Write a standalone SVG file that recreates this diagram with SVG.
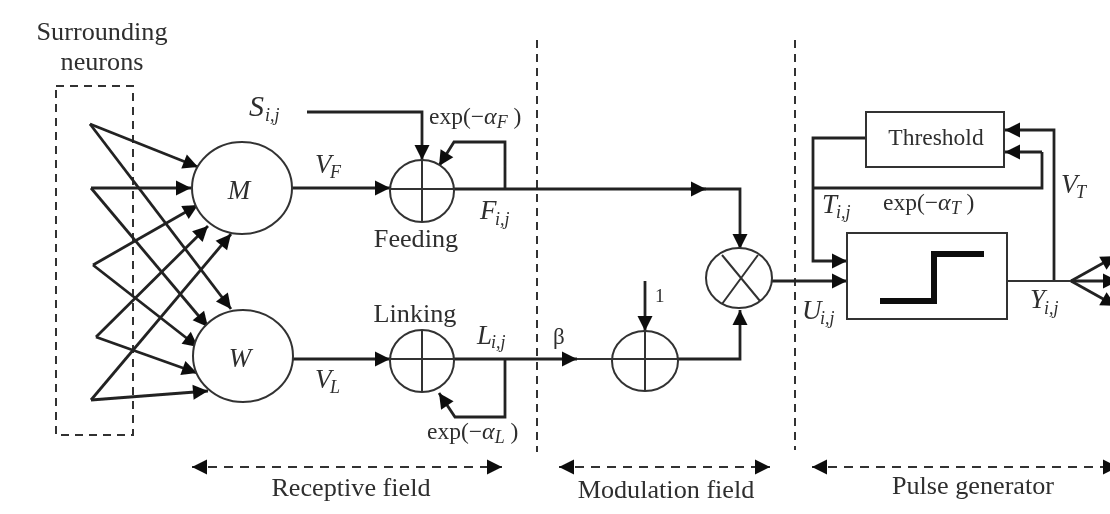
<svg xmlns="http://www.w3.org/2000/svg" width="1110" height="514" viewBox="0 0 1110 514">
<style>
text{font-family:"Liberation Serif","Times New Roman",serif;fill:#2e2e2e;font-size:26.2px}
.lb{text-anchor:middle}
.it{font-style:italic;font-size:27px}
.sub{font-style:italic;font-size:18px}
.e{font-size:23.5px}
.w{fill:none;stroke:#222;stroke-width:2.8}
.a{marker-end:url(#ah)}
.t{fill:none;stroke:#333;stroke-width:2}
.d{fill:none;stroke:#333;stroke-width:2;stroke-dasharray:8 6}
.d2{fill:none;stroke:#333;stroke-width:2;stroke-dasharray:9 7;marker-start:url(#as);marker-end:url(#ah)}
.c{fill:#fff;stroke:#333;stroke-width:2}
</style>
<defs>
<marker id="ah" markerUnits="userSpaceOnUse" markerWidth="18" markerHeight="18" refX="16" refY="9" orient="auto"><path d="M1 1.5L16 9L1 16.5Z" fill="#111"/></marker>
<marker id="as" markerUnits="userSpaceOnUse" markerWidth="18" markerHeight="18" refX="2" refY="9" orient="auto"><path d="M17 1.5L2 9L17 16.5Z" fill="#111"/></marker>
<filter id="soft" x="-5%" y="-5%" width="110%" height="110%"><feGaussianBlur stdDeviation="0.5"/></filter>
</defs>
<rect width="1110" height="514" fill="#fff"/>
<g filter="url(#soft)">
<g id="connectors">
<path class="d" d="M56 86H133V435H56Z"/>
<path class="d" d="M537 40V452"/>
<path class="d" d="M795 40V450"/>
<path class="w a" d="M90 124L198 167"/>
<path class="w a" d="M91 188H191"/>
<path class="w a" d="M93 265L198 205"/>
<path class="w a" d="M96 337L208 226"/>
<path class="w a" d="M91 400L231 234"/>
<path class="w a" d="M90 124L231 309"/>
<path class="w a" d="M91 188L208 327"/>
<path class="w a" d="M93 265L198 347"/>
<path class="w a" d="M96 337L197 373"/>
<path class="w a" d="M91 400L208 391"/>
<path class="w a" d="M292 188H390"/>
<path class="w a" d="M293 359H390"/>
<path class="w a" d="M307 112H422V160"/>
<path class="w a" d="M505 188V142H454L439 166"/>
<path class="w a" d="M505 359V417H455L439 393"/>
<path class="w a" d="M454 189H740V249"/>
<path class="w a" d="M690 189H706"/>
<path class="w a" d="M454 359H577"/>
<path class="t" d="M577 359H612"/>
<path class="w a" d="M645 281V331"/>
<path class="w a" d="M678 359H740V310"/>
<path class="w a" d="M772 281H847"/>
<path class="w a" d="M866 138H813V261H847"/>
<path class="w" d="M813 188H1042V152"/>
<path class="w a" d="M1042 152H1005"/>
<path class="w a" d="M1054 281V130H1005"/>
<path class="t" d="M1007 281H1071"/>
<path class="w a" d="M1071 281L1116 256"/>
<path class="w a" d="M1071 281H1118"/>
<path class="w a" d="M1071 281L1116 306"/>
<path class="d2" d="M192 467H502"/>
<path class="d2" d="M559 467H770"/>
<path class="d2" d="M812 467H1118"/>
</g>
<g id="node-m"><ellipse class="c" cx="242" cy="188" rx="50" ry="46"/><text class="lb it" x="239" y="199">M</text></g>
<g id="node-w"><ellipse class="c" cx="243" cy="356" rx="50" ry="46"/><text class="lb it" x="240" y="367">W</text></g>
<g id="node-feeding"><ellipse class="c" cx="422" cy="191" rx="32" ry="31"/><path class="t" d="M390 189H454M422 160V222"/><text class="lb" x="416" y="247">Feeding</text></g>
<g id="node-linking"><ellipse class="c" cx="422" cy="361" rx="32" ry="31"/><path class="t" d="M390 359H454M422 331V392"/><text class="lb" x="415" y="322">Linking</text></g>
<g id="node-add"><ellipse class="c" cx="645" cy="361" rx="33" ry="30"/><path class="t" d="M612 359H678M645 331V391"/></g>
<g id="node-mul"><ellipse class="c" cx="739" cy="278" rx="33" ry="30"/><path class="t" d="M722 255L760 301M758 255L722 304"/></g>
<g id="node-threshold"><rect class="c" x="866" y="112" width="138" height="55"/><text class="lb" x="936" y="145" style="font-size:23.5px">Threshold</text></g>
<g id="node-step"><rect class="c" x="847" y="233" width="160" height="86"/><path d="M880 301H934V254H984" fill="none" stroke="#111" stroke-width="6"/></g>
<g id="labels">
<text class="lb" x="102" y="40">Surrounding</text>
<text class="lb" x="102" y="70">neurons</text>
<text class="it" x="249" y="116" style="font-size:30px">S</text><text class="sub" x="265" y="121">i,j</text>
<text class="e" x="429" y="124">exp(−<tspan class="it" style="font-size:24px">α</tspan><tspan class="sub" dy="4">F</tspan><tspan dy="-4"> )</tspan></text>
<text class="it" x="315" y="173">V</text><text class="sub" x="330" y="178">F</text>
<text class="it" x="315" y="388">V</text><text class="sub" x="330" y="393">L</text>
<text class="it" x="480" y="219">F</text><text class="sub" x="495" y="225">i,j</text>
<text class="it" x="477" y="344">L</text><text class="sub" x="491" y="348">i,j</text>
<text class="e" x="427" y="439">exp(−<tspan class="it" style="font-size:24px">α</tspan><tspan class="sub" dy="4">L</tspan><tspan dy="-4"> )</tspan></text>
<text x="553" y="344" style="font-size:23px">β</text>
<text x="655" y="302" style="font-size:19px">1</text>
<text class="it" x="802" y="319">U</text><text class="sub" x="820" y="324">i,j</text>
<text class="it" x="822" y="213">T</text><text class="sub" x="836" y="218">i,j</text>
<text class="e" x="883" y="210">exp(−<tspan class="it" style="font-size:24px">α</tspan><tspan class="sub" dy="4">T</tspan><tspan dy="-4"> )</tspan></text>
<text class="it" x="1061" y="193">V</text><text class="sub" x="1076" y="198">T</text>
<text class="it" x="1030" y="308">Y</text><text class="sub" x="1044" y="314">i,j</text>
<text class="lb" x="351" y="496">Receptive field</text>
<text class="lb" x="666" y="498">Modulation field</text>
<text class="lb" x="973" y="494">Pulse generator</text>
</g>
</g>
</svg>
